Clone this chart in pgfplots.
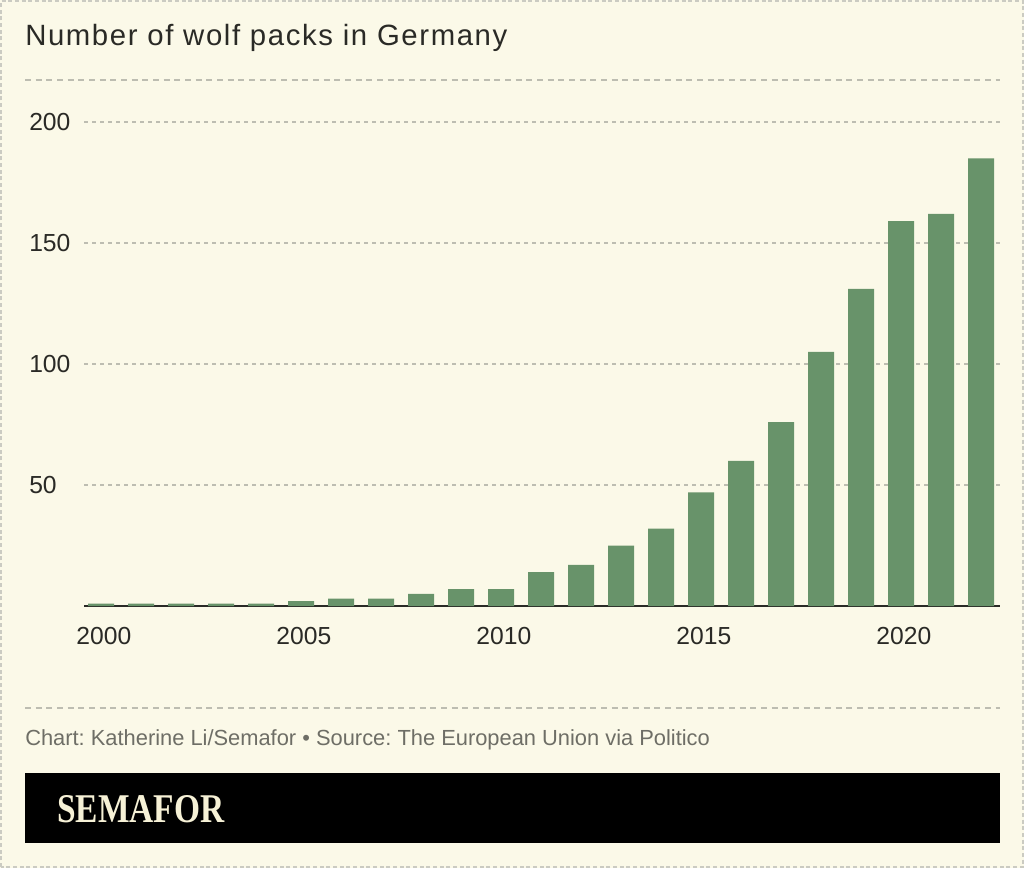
\documentclass[border=0pt]{standalone}
\usepackage{fontspec}
\setmainfont{Liberation Sans}
\newfontfamily\serifbold{Liberation Serif}
\usepackage{pgfplots}
\pgfplotsset{compat=1.18}
\definecolor{bg}{HTML}{FBF9E8}
\definecolor{bargreen}{HTML}{68936A}
\definecolor{gridc}{HTML}{BDBDB1}
\definecolor{borderc}{HTML}{CBCBC2}
\definecolor{footc}{HTML}{6E6E66}
\definecolor{cream}{HTML}{F6F1D6}
\definecolor{textc}{HTML}{2A2A26}
\frenchspacing
\begin{document}
\begin{tikzpicture}[x=0.75pt,y=0.75pt]
\path[use as bounding box, fill=bg] (0,0) rectangle (1024,868);
\draw[borderc, line width=1.5pt, dash pattern=on 3pt off 2pt] (1,1) rectangle (1023,867);
% title
\node[anchor=base west, inner sep=0pt, text=textc] at (25,822)
  {\fontsize{22}{26}\selectfont\addfontfeatures{LetterSpace=5.5}Number of wolf packs in Germany};
% rules
\draw[gridc, line width=0.8pt, dash pattern=on 4.5pt off 3.5pt] (25,788) -- (1000,788);
\draw[gridc, line width=0.8pt, dash pattern=on 4.5pt off 3.5pt] (25,160) -- (1000,160);
% footer
\node[anchor=base west, inner sep=0pt, text=footc] at (25,123)
  {\fontsize{16.4}{20}\selectfont Chart: Katherine Li/Semafor \textbullet{} Source: The European Union via Politico};
\fill[black] (25,25) rectangle (1000,95);
\node[anchor=base west, inner sep=0pt, text=cream] at (57,46)
  {\scalebox{0.82}[1]{\fontsize{30.6}{34}\selectfont\serifbold\bfseries SEMAFOR}};
\begin{axis}[
  at={(63pt,196.5pt)}, anchor=south west,
  scale only axis, width=687pt, height=363pt,
  xmin=1999.57, xmax=2022.47, ymin=0, ymax=200,
  axis lines*=left,
  y axis line style={draw=none},
  x axis line style={-, draw=textc, line width=1.5pt},
  ytick={50,100,150,200},
  xtick={2000,2005,2010,2015,2020},
  xticklabels={2000,2005,2010,2015,2020},
  major tick length=0pt,
  tick style={draw=none},
  ymajorgrids,
  grid style={gridc, line width=0.8pt, dash pattern=on 3pt off 3pt},
  ticklabel style={font=\fontsize{18.5}{22}\selectfont, text=textc, inner sep=0pt},
  /pgf/number format/assume math mode=true,
  yticklabel style={anchor=west, xshift=-41.25pt},
  xticklabel style={anchor=north, yshift=-15.5pt, xshift=2pt},
  scaled y ticks=false,
]
\addplot[ybar, bar width=19.5pt, fill=bargreen, draw=none] coordinates {
(2000,1) (2001,1) (2002,1) (2003,1) (2004,1) (2005,2) (2006,3) (2007,3)
(2008,5) (2009,7) (2010,7) (2011,14) (2012,17) (2013,25) (2014,32)
(2015,47) (2016,60) (2017,76) (2018,105) (2019,131) (2020,159) (2021,162) (2022,185)
};
\end{axis}
\end{tikzpicture}
\end{document}
